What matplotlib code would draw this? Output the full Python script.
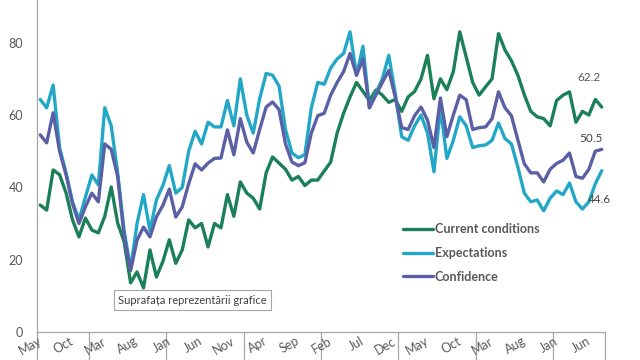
import matplotlib
matplotlib.use("Agg")
import matplotlib.pyplot as plt
import numpy as np

plt.rcParams['font.family'] = ['Lato', 'DejaVu Sans']

tick_labels = ["May", "Oct", "Mar", "Aug", "Jan", "Jun", "Nov", "Apr", "Sep",
               "Feb", "Jul", "Dec", "May", "Oct", "Mar", "Aug", "Jan", "Jun"]

current = [
    35.1, 33.7, 44.8, 43.5, 38.5, 31.0, 26.3, 31.5, 28.2, 27.4,
    32.0, 40.1, 30.1, 25.0, 13.6, 16.6, 12.2, 22.7, 15.2, 19.5,
    25.5, 19.0, 22.7, 31.0, 28.8, 30.0, 23.5, 30.0, 28.8, 38.0,
    32.0, 41.5, 38.4, 37.0, 34.0, 44.0, 48.4, 46.7, 45.0, 42.0,
    43.0, 40.5, 42.0, 42.0, 44.5, 47.0, 55.0, 60.5, 65.0, 69.0,
    66.5, 64.0, 66.9, 65.5, 63.5, 64.3, 61.0, 65.0, 66.5, 70.0,
    76.5, 64.5, 70.0, 67.0, 72.0, 83.0, 76.0, 69.0, 65.5, 67.8,
    70.0, 82.5, 78.0, 75.0, 71.0, 65.6, 61.0, 59.5, 59.0, 57.0,
    64.0, 65.5, 66.4, 58.0, 61.0, 60.0, 64.3, 62.2]

expectations = [
    64.3, 62.0, 68.3, 51.0, 44.0, 36.0, 31.0, 37.3, 43.4, 40.7,
    62.0, 57.0, 44.0, 28.0, 17.5, 30.0, 38.0, 28.0, 36.5, 40.5,
    46.0, 38.4, 40.0, 50.0, 55.5, 52.0, 58.0, 56.7, 56.7, 64.0,
    57.0, 70.0, 60.0, 55.0, 64.5, 71.5, 71.0, 68.0, 56.0, 49.5,
    48.2, 49.0, 62.0, 69.0, 68.5, 73.0, 75.5, 77.0, 83.0, 71.0,
    79.0, 62.0, 66.0, 70.0, 76.5, 66.0, 54.0, 53.0, 57.0, 60.0,
    55.0, 44.3, 62.0, 48.0, 53.0, 59.5, 57.0, 51.0, 51.5, 51.7,
    53.0, 57.8, 53.5, 52.0, 45.6, 38.4, 36.0, 36.5, 33.5, 37.0,
    39.0, 38.0, 41.2, 36.0, 34.0, 36.0, 41.0, 44.6]

confidence = [
    54.5, 52.3, 60.6, 50.0, 43.5, 35.5, 30.0, 34.6, 38.4, 36.0,
    52.0, 50.5, 43.0, 26.5, 17.0, 25.4, 29.0, 26.3, 31.8, 35.0,
    39.5, 31.8, 34.6, 41.0, 46.5, 44.8, 46.7, 48.0, 48.1, 55.9,
    49.0, 59.0, 52.5, 49.5, 56.0, 62.2, 63.6, 61.5, 52.0, 47.0,
    46.0, 46.8, 55.0, 59.8, 60.5, 65.5, 69.0, 72.0, 77.0, 71.0,
    75.5, 62.0, 65.5, 69.0, 72.3, 65.0, 56.5, 56.0, 59.8, 62.2,
    58.6, 51.0, 64.7, 54.0, 60.0, 65.5, 64.2, 56.0, 56.5, 56.7,
    59.0, 66.4, 62.0, 59.8, 53.1, 46.5, 44.0, 44.0, 41.5, 45.0,
    46.6, 47.5, 49.5, 43.0, 42.5, 45.0, 50.0, 50.5]

series_names = ["Current conditions", "Expectations", "Confidence"]
colors = ["#1b8058", "#22a8c6", "#5a5fa6"]

fig = plt.figure(figsize=(6.4, 3.6), dpi=100)
ax = fig.add_axes([37/640, 28/360, (605-37)/640, 332/360])

x = np.arange(len(current))
for vals, name, col in zip([current, expectations, confidence], series_names, colors):
    ax.plot(x, vals, color=col, lw=2.4, label=name,
            solid_joinstyle='round', solid_capstyle='round')

ax.set_xlim(-0.5, len(current) - 0.5)
ax.set_ylim(0, 91.8)

for s in ['top', 'right']:
    ax.spines[s].set_visible(False)
for s in ['left', 'bottom']:
    ax.spines[s].set_color('#a6a6a6')
    ax.spines[s].set_linewidth(0.9)

ax.set_yticks([0, 20, 40, 60, 80])
ax.tick_params(axis='y', length=0, pad=10, labelsize=9, labelcolor='#595959')

year_ticks = [-0.5] + list(np.arange(7.5, len(current), 12)) + [len(current) - 0.5]
ax.set_xticks(year_ticks)
ax.set_xticklabels([])
ax.tick_params(axis='x', length=22, width=0.9, color='#a6a6a6', direction='out')

label_idx = list(range(0, len(current), 5))
for i, lab in zip(label_idx, tick_labels):
    ax.annotate(lab, xy=(i + 0.5, 0), xycoords=('data', 'axes fraction'),
                xytext=(0, -2), textcoords='offset points', rotation=30,
                ha='right', va='top', fontsize=9, color='#595959',
                annotation_clip=False)

# end value labels
ax.text(85.0, 70.5, f"{current[-1]:.1f}", fontsize=8.5, color='#595959', ha='center', va='center')
ax.text(85.3, 53.4, f"{confidence[-1]:.1f}", fontsize=8.5, color='#404040', ha='center', va='center')
ax.text(86.6, 36.5, f"{expectations[-1]:.1f}", fontsize=8.5, color='#404040', ha='center', va='center')

leg = ax.legend(loc='upper left', bbox_to_anchor=(403/640, 1 - 223/360),
                bbox_transform=fig.transFigure, frameon=False,
                borderpad=0, borderaxespad=0, handlelength=2.4,
                handletextpad=0.15, labelspacing=0.95,
                prop={'size': 9, 'weight': 'bold'})
for t in leg.get_texts():
    t.set_color('#595959')

fig.text(118/640, 1 - 300/360, "Suprafața reprezentării grafice", fontsize=8,
         color='#404040', ha='left', va='center',
         bbox=dict(boxstyle='square,pad=0.4', fc='white', ec='#a6a6a6', lw=0.8))

fig.savefig("out.png", dpi=100)
